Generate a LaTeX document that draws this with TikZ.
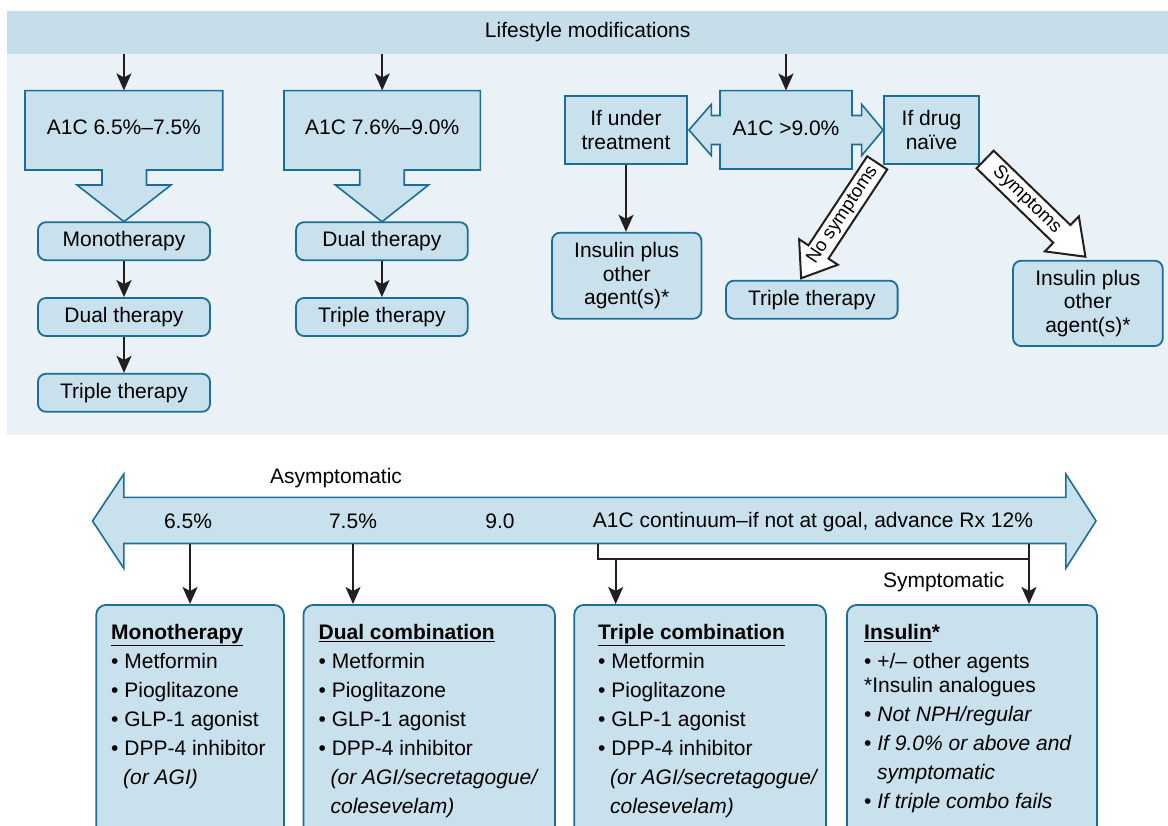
\documentclass[tikz,border=0pt]{standalone}
\usepackage{fontspec}
\setmainfont{Liberation Sans}
\usetikzlibrary{arrows.meta, positioning}
\definecolor{boxblue}{HTML}{C8E1EC}
\definecolor{bandblue}{HTML}{C6DEEA}
\definecolor{paneblue}{HTML}{EAF2F8}
\definecolor{edgeblue}{HTML}{1B6E98}
\definecolor{inkblack}{HTML}{231F20}

\begin{document}
\begin{tikzpicture}[
    x=1pt, y=-1pt,
    node distance=36pt,
    font=\fontsize{21}{23.5}\selectfont,
    stage/.style={
        draw=edgeblue, line width=1.8pt, fill=boxblue,
        rounded corners=8pt, align=center, inner sep=2pt,
        minimum width=#1, minimum height=38pt,
    },
    stage/.default=172,
    branch/.style={
        draw=edgeblue, line width=1.8pt, fill=boxblue,
        align=center, inner sep=2pt, minimum height=68.6pt,
    },
    blockline/.style={draw=edgeblue, line width=1.6pt, fill=boxblue},
    hollow/.style={draw=inkblack, line width=2pt, fill=white},
    drugbox/.style={
        draw=edgeblue, line width=1.8pt, fill=boxblue,
        rounded corners=10pt, anchor=north west,
        minimum width=#1, minimum height=260pt,
    },
    druglist/.style={anchor=north west, align=left, inner sep=0pt,
        font=\fontsize{21}{29}\selectfont},
    arrow/.style={-{Stealth[length=17pt, width=15pt, inset=4pt]}, line width=2pt, draw=inkblack},
    link/.style={line width=2pt, draw=inkblack},
]
\useasboundingbox (0,0) rectangle (1168,826);
\clip (0,0) rectangle (1168,826);
\fill[white] (0,0) rectangle (1168,826);

% upper panel
\fill[paneblue] (7,54) rectangle (1168,435);
\node[fill=bandblue, inner sep=0pt, anchor=north west,
      minimum width=1161pt, minimum height=43.3pt] (lifestyle) at (7,10.7) {Lifestyle modifications};

% range boxes with arrow feet
\draw[blockline] (25,90.7) -- (222.7,90.7) -- (222.7,170) -- (146.5,170) -- (146.5,185)
    -- (171,185) -- (124,221.7) -- (77,185) -- (102,185) -- (102,170) -- (25,170) -- cycle;
\draw[blockline] (284,90.7) -- (480.3,90.7) -- (480.3,170) -- (404.2,170) -- (404.2,185)
    -- (428.6,185) -- (382,221.7) -- (335.3,185) -- (359.7,185) -- (359.7,170) -- (284,170) -- cycle;
\draw[blockline] (720,90.7) -- (852,90.7) -- (852,115.5) -- (861.6,115.5) -- (861.6,104.3)
    -- (883,130) -- (861.6,155.7) -- (861.6,144.5) -- (852,144.5) -- (852,169) -- (720,169)
    -- (720,144.5) -- (711.4,144.5) -- (711.4,155.7) -- (689,130) -- (711.4,104.3)
    -- (711.4,115.5) -- (720,115.5) -- cycle;

\node[minimum width=197.7pt, minimum height=79.3pt, text depth=6pt] (rangeA) at (123.9,130.3) {A1C 6.5\%–7.5\%};
\node[minimum width=196.3pt, minimum height=79.3pt, text depth=6pt] (rangeB) at (382.2,130.3) {A1C 7.6\%–9.0\%};
\node[minimum width=132pt, minimum height=78.3pt, text depth=4pt] (rangeC) at (786,129.9) {A1C >9.0\%};

% first column
\node[stage] (monoA) at (124,241.2) {Monotherapy};
\node[stage, below=of monoA] (dualA) {Dual therapy};
\node[stage, below=of dualA] (tripleA) {Triple therapy};

% second column
\node[stage=171.7] (dualB) at (381.9,241.2) {Dual therapy};
\node[stage=171.7, below=of dualB] (tripleB) {Triple therapy};

% third group
\node[branch, minimum width=122pt] (undertreat) at (626,130) {If under\\treatment};
\node[branch, minimum width=95pt] (naive) at (931.5,130) {If drug\\naïve};
\node[stage=149.4, minimum height=86pt] (insulinL) at (626.7,275.7) {Insulin plus\\other\\agent(s)*};
\node[stage=171.6] (tripleC) at (811.8,299.7) {Triple therapy};
\node[stage=149.7, minimum height=85.3pt] (insulinR) at (1087.9,303.4) {Insulin plus\\other\\agent(s)*};

\draw[arrow] (lifestyle.south -| rangeA) -- (rangeA);
\draw[arrow] (lifestyle.south -| rangeB) -- (rangeB);
\draw[arrow] (lifestyle.south -| rangeC) -- (rangeC);
\draw[arrow] (monoA) -- (dualA);
\draw[arrow] (dualA) -- (tripleA);
\draw[arrow] (dualB) -- (tripleB);
\draw[arrow] (undertreat.south) -- (undertreat.south |- insulinL.north);

% symptom arrows
\begin{scope}[shift={(877.2,162.9)}, rotate=236.6]
    \draw[hollow] (0,-12) -- (106.7,-12) -- (106.7,-23.2) -- (138.2,0) -- (106.7,23.2) -- (106.7,12) -- (0,12) -- cycle;
    \node[rotate=56.6, inner sep=0pt, font=\fontsize{18.5}{20}\selectfont] (nosym) at (62.5,0) {No symptoms};
\end{scope}
\begin{scope}[shift={(985.1,159.5)}, rotate=-44.1]
    \draw[hollow] (0,-12.3) -- (106.9,-12.3) -- (106.9,-24.4) -- (139.7,0) -- (106.9,24.4) -- (106.9,12.3) -- (0,12.3) -- cycle;
    \node[rotate=-44.1, inner sep=0pt, font=\fontsize{18.5}{20}\selectfont] (sym) at (58,0) {Symptoms};
\end{scope}

% A1C continuum
\draw[blockline] (92.5,521) -- (123.8,474) -- (123.8,497.3) -- (1065.8,497.3) -- (1065.8,474)
    -- (1096,521) -- (1065.8,568.3) -- (1065.8,543.5) -- (123.8,543.5) -- (123.8,568.3) -- cycle;
\node (asym) at (336,478.3) {Asymptomatic};
\node (pctA) at (188,521) {6.5\%};
\node (pctB) at (353,521) {7.5\%};
\node (pctC) at (500,521) {9.0};
\node (contin) at (813,522) {A1C continuum–if not at goal, advance Rx 12\%};
\node (symp) at (943.7,581.7) {Symptomatic};

\node[drugbox=187.7] (monocomb) at (95.3,604) {};
\node[drugbox=251.5] (dualcomb) at (302.5,604) {};
\node[drugbox=251.7] (triplecomb) at (573.3,604) {};
\node[drugbox=250] (insulincomb) at (846,604) {};

\coordinate (splitL) at (597.5,544);
\coordinate (splitR) at (1029,544);
\coordinate (bend) at (1029,558.7);
\coordinate (forkC) at (615.7,558.7);
\draw[arrow] (monocomb.north |- splitL) -- (monocomb.north);
\draw[arrow] (pctB |- splitL) -- (pctB |- dualcomb.north);
\draw[link] (splitL) |- (bend);
\draw[arrow] (forkC) -- (forkC |- triplecomb.north);
\draw[arrow] (splitR) -- (splitR |- insulincomb.north);

\node[druglist] (monolist) at (111,624) {%
    \underline{\textbf{Monotherapy}}\\
    • Metformin\\
    • Pioglitazone\\
    • GLP-1 agonist\\
    • DPP-4 inhibitor\\
    \hspace*{12pt}\textit{(or AGI)}};
\node[druglist] (duallist) at (318.4,624) {%
    \underline{\textbf{Dual combination}}\\
    • Metformin\\
    • Pioglitazone\\
    • GLP-1 agonist\\
    • DPP-4 inhibitor\\
    \hspace*{12pt}\textit{(or AGI/secretagogue/}\\
    \hspace*{12pt}\textit{colesevelam)}};
\node[druglist] (triplelist) at (598,624) {%
    \underline{\textbf{Triple combination}}\\
    • Metformin\\
    • Pioglitazone\\
    • GLP-1 agonist\\
    • DPP-4 inhibitor\\
    \hspace*{12pt}\textit{(or AGI/secretagogue/}\\
    \hspace*{12pt}\textit{colesevelam)}};
\node[druglist] (insulinlist) at (864,624) {%
    \underline{\textbf{Insulin}}\textbf{*}\\
    • +/– other agents\\[-5pt]
    *Insulin analogues\\
    • \textit{Not NPH/regular}\\
    • \textit{If 9.0\% or above and}\\
    \hspace*{13pt}\textit{symptomatic}\\
    • \textit{If triple combo fails}};

\end{tikzpicture}
\end{document}
